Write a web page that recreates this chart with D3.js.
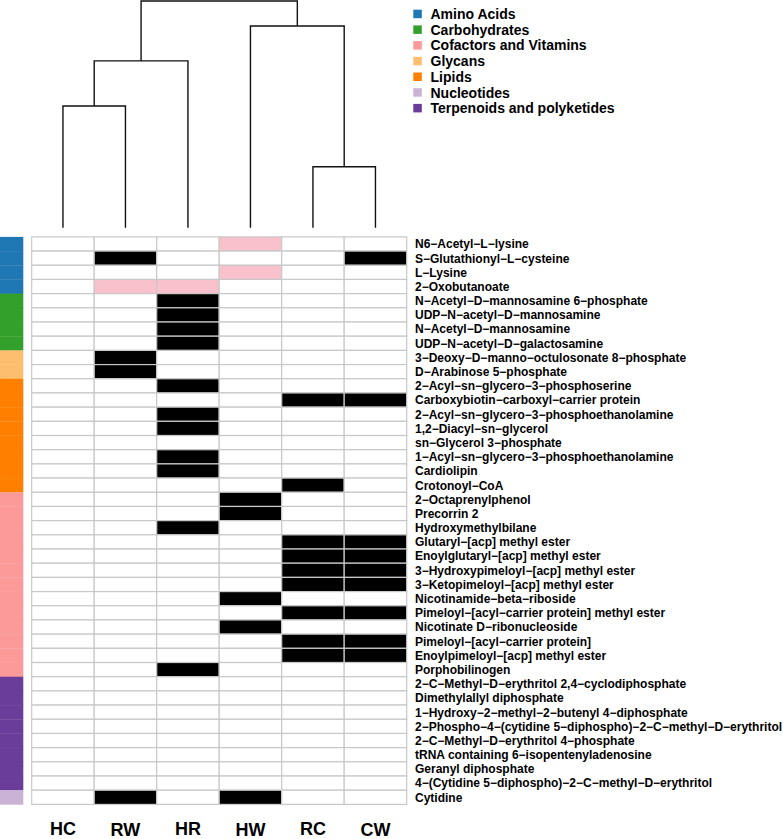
<!DOCTYPE html>
<html><head><meta charset="utf-8">
<script src="https://cdn.jsdelivr.net/npm/d3@7"></script>
<style>
body{margin:0;background:#fff}
text{font-family:"Liberation Sans",Arial,Helvetica,sans-serif;font-weight:bold;fill:#000}
</style>
</head><body>
<svg id="chart" width="783" height="839"></svg>
<script>
// ---------------- data ----------------
const samples = ["HC","RW","HR","HW","RC","CW"];

const compounds = [
  "N6\u2212Acetyl\u2212L\u2212lysine",
  "S\u2212Glutathionyl\u2212L\u2212cysteine",
  "L\u2212Lysine",
  "2\u2212Oxobutanoate",
  "N\u2212Acetyl\u2212D\u2212mannosamine 6\u2212phosphate",
  "UDP\u2212N\u2212acetyl\u2212D\u2212mannosamine",
  "N\u2212Acetyl\u2212D\u2212mannosamine",
  "UDP\u2212N\u2212acetyl\u2212D\u2212galactosamine",
  "3\u2212Deoxy\u2212D\u2212manno\u2212octulosonate 8\u2212phosphate",
  "D\u2212Arabinose 5\u2212phosphate",
  "2\u2212Acyl\u2212sn\u2212glycero\u22123\u2212phosphoserine",
  "Carboxybiotin\u2212carboxyl\u2212carrier protein",
  "2\u2212Acyl\u2212sn\u2212glycero\u22123\u2212phosphoethanolamine",
  "1,2\u2212Diacyl\u2212sn\u2212glycerol",
  "sn\u2212Glycerol 3\u2212phosphate",
  "1\u2212Acyl\u2212sn\u2212glycero\u22123\u2212phosphoethanolamine",
  "Cardiolipin",
  "Crotonoyl\u2212CoA",
  "2\u2212Octaprenylphenol",
  "Precorrin 2",
  "Hydroxymethylbilane",
  "Glutaryl\u2212[acp] methyl ester",
  "Enoylglutaryl\u2212[acp] methyl ester",
  "3\u2212Hydroxypimeloyl\u2212[acp] methyl ester",
  "3\u2212Ketopimeloyl\u2212[acp] methyl ester",
  "Nicotinamide\u2212beta\u2212riboside",
  "Pimeloyl\u2212[acyl\u2212carrier protein] methyl ester",
  "Nicotinate D\u2212ribonucleoside",
  "Pimeloyl\u2212[acyl\u2212carrier protein]",
  "Enoylpimeloyl\u2212[acp] methyl ester",
  "Porphobilinogen",
  "2\u2212C\u2212Methyl\u2212D\u2212erythritol 2,4\u2212cyclodiphosphate",
  "Dimethylallyl diphosphate",
  "1\u2212Hydroxy\u22122\u2212methyl\u22122\u2212butenyl 4\u2212diphosphate",
  "2\u2212Phospho\u22124\u2212(cytidine 5\u2212diphospho)\u22122\u2212C\u2212methyl\u2212D\u2212erythritol",
  "2\u2212C\u2212Methyl\u2212D\u2212erythritol 4\u2212phosphate",
  "tRNA containing 6\u2212isopentenyladenosine",
  "Geranyl diphosphate",
  "4\u2212(Cytidine 5\u2212diphospho)\u22122\u2212C\u2212methyl\u2212D\u2212erythritol",
  "Cytidine"
];

const categories = ["Amino Acids","Carbohydrates","Cofactors and Vitamins","Glycans","Lipids","Nucleotides","Terpenoids and polyketides"];
const categoryColors = ["#1F78B4","#33A02C","#FB9A99","#FDBF6F","#FF7F00","#CAB2D6","#6A3D9A"];

const rowCategory = [
  "Amino Acids","Amino Acids","Amino Acids","Amino Acids",
  "Carbohydrates","Carbohydrates","Carbohydrates","Carbohydrates",
  "Glycans","Glycans",
  "Lipids","Lipids","Lipids","Lipids","Lipids","Lipids","Lipids","Lipids",
  "Cofactors and Vitamins","Cofactors and Vitamins","Cofactors and Vitamins","Cofactors and Vitamins",
  "Cofactors and Vitamins","Cofactors and Vitamins","Cofactors and Vitamins","Cofactors and Vitamins",
  "Cofactors and Vitamins","Cofactors and Vitamins","Cofactors and Vitamins","Cofactors and Vitamins",
  "Cofactors and Vitamins",
  "Terpenoids and polyketides","Terpenoids and polyketides","Terpenoids and polyketides","Terpenoids and polyketides",
  "Terpenoids and polyketides","Terpenoids and polyketides","Terpenoids and polyketides","Terpenoids and polyketides",
  "Nucleotides"
];

// cell values per row, columns HC RW HR HW RC CW  (0 = none, 1 = pink, 2 = black)
const values = [
  [0,0,0,1,0,0],
  [0,2,0,0,0,2],
  [0,0,0,1,0,0],
  [0,1,1,0,0,0],
  [0,0,2,0,0,0],
  [0,0,2,0,0,0],
  [0,0,2,0,0,0],
  [0,0,2,0,0,0],
  [0,2,0,0,0,0],
  [0,2,0,0,0,0],
  [0,0,2,0,0,0],
  [0,0,0,0,2,2],
  [0,0,2,0,0,0],
  [0,0,2,0,0,0],
  [0,0,0,0,0,0],
  [0,0,2,0,0,0],
  [0,0,2,0,0,0],
  [0,0,0,0,2,0],
  [0,0,0,2,0,0],
  [0,0,0,2,0,0],
  [0,0,2,0,0,0],
  [0,0,0,0,2,2],
  [0,0,0,0,2,2],
  [0,0,0,0,2,2],
  [0,0,0,0,2,2],
  [0,0,0,2,0,0],
  [0,0,0,0,2,2],
  [0,0,0,2,0,0],
  [0,0,0,0,2,2],
  [0,0,0,0,2,2],
  [0,0,2,0,0,0],
  [0,0,0,0,0,0],
  [0,0,0,0,0,0],
  [0,0,0,0,0,0],
  [0,0,0,0,0,0],
  [0,0,0,0,0,0],
  [0,0,0,0,0,0],
  [0,0,0,0,0,0],
  [0,0,0,0,0,0],
  [0,2,0,2,0,0]
];
const valueLevels = [0,1,2];
const valueColors = ["#FFFFFF","#F8C1CC","#000000"];

// column dendrogram merges: [left, right, height]; "mN" refers to merge N
const merges = [
  ["HC","RW",5.37],
  ["RC","CW",2.69],
  ["m0","HR",7.36],
  ["HW","m1",8.90],
  ["m2","m3",10.0]
];

// ---------------- drawing ----------------
const svg = d3.select("#chart");
const gridLeft = 31.7, gridRight = 406.7, gridTop = 236.9, gridBottom = 804.4;

const x = d3.scaleBand().domain(samples).range([gridLeft, gridRight]).padding(0);
const y = d3.scaleBand().domain(compounds).range([gridTop, gridBottom]).padding(0);
const fill = d3.scaleOrdinal().domain(valueLevels).range(valueColors);
const catColor = d3.scaleOrdinal().domain(categories).range(categoryColors);
const hY = d3.scaleLinear().domain([0, 10]).range([227.8, 1.0]);

// heatmap cells
const cells = [];
compounds.forEach((c, i) => samples.forEach((s, j) => cells.push({c, s, v: values[i][j]})));
svg.append("g").selectAll("rect").data(cells).join("rect")
  .attr("x", d => x(d.s)).attr("y", d => y(d.c))
  .attr("width", x.bandwidth()).attr("height", y.bandwidth())
  .attr("fill", d => fill(d.v))
  .attr("stroke", "#c8c8c8").attr("stroke-width", 1.2);

// row annotation bar
svg.append("g").selectAll("rect").data(compounds).join("rect")
  .attr("x", 0).attr("y", d => y(d))
  .attr("width", 23.3).attr("height", y.bandwidth() + 0.3)
  .attr("fill", (d, i) => catColor(rowCategory[i]));

// row labels
svg.append("g").selectAll("text").data(compounds).join("text")
  .attr("x", 415).attr("y", d => y(d) + y.bandwidth() / 2)
  .attr("dy", "0.36em")
  .style("font-size", "12px")
  .text(d => d);

// column labels
const colLab = svg.append("g").selectAll("text").data(samples).join("text")
  .attr("x", d => x(d) + x.bandwidth() / 2)
  .attr("text-anchor", "middle")
  .style("font-size", "18px")
  .text(d => d);
colLab.attr("y", function() {
  const w = this.getComputedTextLength();
  return 834.8 + Math.max(0, (w - 26)) * 0.3;
});

// dendrogram
const nodes = {};
samples.forEach(s => nodes[s] = {x: x(s) + x.bandwidth() / 2, h: 0});
const dend = svg.append("g").attr("fill", "none").attr("stroke", "#111").attr("stroke-width", 1.4);
merges.forEach((m, i) => {
  const a = nodes[m[0]], b = nodes[m[1]], h = m[2];
  const path = d3.path();
  path.moveTo(a.x, hY(a.h)); path.lineTo(a.x, hY(h));
  path.lineTo(b.x, hY(h)); path.lineTo(b.x, hY(b.h));
  dend.append("path").attr("d", path.toString());
  nodes["m" + i] = {x: (a.x + b.x) / 2, h};
});

// legend
const leg = svg.append("g");
categories.forEach((c, i) => {
  const cy = 14 + i * 15.7;
  leg.append("rect").attr("x", 413.3).attr("y", cy - 4.3).attr("width", 8.5).attr("height", 8.5)
    .attr("fill", catColor(c));
  leg.append("text").attr("x", 430.5).attr("y", cy).attr("dy", "0.36em")
    .style("font-size", "14px").text(c);
});
</script>
</body></html>
